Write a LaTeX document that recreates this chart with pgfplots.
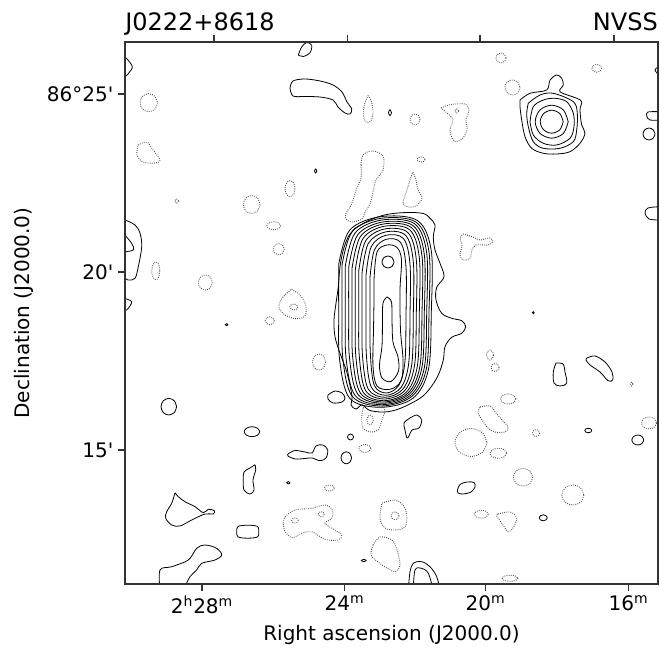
\documentclass[border=0pt]{standalone}
\usepackage{fontspec}
\setmainfont{DejaVu Sans}
\usepackage{pgfplots}
\pgfplotsset{compat=1.18}
\pgfplotsset{
  cpos/.style={black, line width=0.6pt, smooth, tension=0.55, mark=none},
  cneg/.style={black!70, line width=0.7pt, dash pattern=on 0.6pt off 1.0pt, smooth, tension=0.55, mark=none},
  mapframe/.style={
    scale only axis, width=399.75pt, height=406.5pt,
    xmin=125, xmax=658, ymin=-584, ymax=-42,
    axis line style={line width=0.9pt, black!80},
    tick style={line width=0.9pt, black!80},
    tick align=outside, major tick length=5.25pt,
    tick label style={font=\fontsize{15}{18}\selectfont},
  },
}
\begin{document}
\begin{tikzpicture}
\begin{axis}[
  mapframe,
  xtick pos=left, ytick pos=left,
  xtick={202,344.5,485.5,628.5},
  xticklabels={\mbox{2\textsuperscript{h}28\textsuperscript{m}},\mbox{24\textsuperscript{m}},\mbox{20\textsuperscript{m}},\mbox{16\textsuperscript{m}}},
  ytick={-450,-272,-94},
  yticklabels={\mbox{15\textquotesingle},\mbox{20\textquotesingle},\mbox{86°25\textquotesingle}},
]
% ---- main source: nested contours, outer to inner ----
\addplot[cpos] coordinates {(355.0,-228.3)(370.0,-220.0)(386.7,-214.5)(406.7,-212.5)(423.3,-213.5)(430.0,-218.3)(435.0,-225.0)(433.3,-236.7)(435.0,-250.0)(440.0,-263.3)(444.0,-276.7)(436.7,-287.3)(436.0,-300.0)(441.7,-313.3)(451.7,-318.3)(461.7,-320.7)(465.7,-326.7)(461.7,-333.3)(451.7,-337.3)(445.0,-346.7)(443.3,-360.0)(438.3,-375.0)(430.0,-388.3)(420.0,-398.3)(400.0,-408.5)(385.0,-412.0)(370.0,-410.5)(362.0,-405.0)(356.0,-409.0)(351.0,-405.0)(352.0,-396.0)(346.7,-371.7)(340.0,-353.3)(335.0,-336.7)(334.0,-320.0)(336.0,-303.3)(338.3,-286.7)(340.0,-266.7)(343.3,-250.0)(348.3,-236.7)(355.0,-228.3)};
\addplot[cpos] coordinates {(338.7,-264.4)(349.8,-230.0)(380.4,-216.7)(417.4,-220.5)(431.3,-251.0)(431.3,-312.0)(428.5,-369.2)(412.8,-398.4)(380.4,-407.3)(349.8,-398.4)(339.6,-359.7)(338.7,-312.0)(338.7,-264.4)};
\addplot[cpos] coordinates {(342.0,-265.2)(352.4,-231.4)(381.2,-218.3)(416.0,-222.1)(429.0,-252.1)(429.0,-312.2)(426.4,-368.5)(411.6,-396.6)(381.2,-406.0)(352.4,-396.6)(342.9,-359.1)(342.0,-312.2)(342.0,-265.2)};
\addplot[cpos] coordinates {(345.3,-266.2)(355.1,-232.9)(381.9,-220.0)(414.5,-223.7)(426.7,-253.2)(426.7,-312.4)(424.3,-367.8)(410.4,-395.5)(381.9,-404.7)(355.1,-395.5)(346.1,-358.5)(345.3,-312.4)(345.3,-266.2)};
\addplot[cpos] coordinates {(348.7,-267.3)(357.8,-234.7)(382.7,-222.0)(413.0,-225.6)(424.3,-254.6)(424.3,-312.7)(422.0,-367.0)(409.2,-394.2)(382.7,-403.3)(357.8,-394.2)(349.5,-358.0)(348.7,-312.7)(348.7,-267.3)};
\addplot[cpos] coordinates {(352.0,-268.5)(360.4,-236.5)(383.5,-224.0)(411.5,-227.6)(422.0,-256.0)(422.0,-313.0)(419.9,-366.4)(408.0,-393.1)(383.5,-402.0)(360.4,-393.1)(352.7,-357.5)(352.0,-313.0)(352.0,-268.5)};
\addplot[cpos] coordinates {(355.3,-269.9)(363.0,-238.5)(384.1,-226.3)(409.7,-229.8)(419.3,-257.7)(419.3,-313.5)(417.4,-365.8)(406.5,-392.0)(384.1,-400.7)(363.0,-392.0)(355.9,-357.1)(355.3,-313.5)(355.3,-269.9)};
\addplot[cpos] coordinates {(358.7,-271.5)(365.6,-240.9)(384.6,-229.0)(407.7,-232.4)(416.3,-259.6)(416.3,-314.0)(414.6,-365.0)(404.8,-390.5)(384.6,-399.0)(365.6,-390.5)(359.3,-356.5)(358.7,-314.0)(358.7,-271.5)};
\addplot[cpos] coordinates {(362.0,-273.3)(368.2,-243.6)(385.1,-232.0)(405.6,-235.3)(413.3,-261.8)(413.3,-314.7)(411.8,-364.2)(403.0,-389.0)(385.1,-397.3)(368.2,-389.0)(362.5,-356.0)(362.0,-314.7)(362.0,-273.3)};
\addplot[cpos] coordinates {(366.0,-275.3)(371.3,-246.5)(385.8,-235.3)(403.4,-238.5)(410.0,-264.1)(410.0,-315.3)(408.7,-363.3)(401.2,-387.3)(385.8,-395.3)(371.3,-387.3)(366.4,-355.3)(366.0,-315.3)(366.0,-275.3)};
\addplot[cpos] coordinates {(370.0,-277.7)(374.3,-250.1)(386.2,-239.3)(400.6,-242.4)(406.0,-267.0)(406.0,-316.2)(404.9,-362.3)(398.8,-385.3)(386.2,-393.0)(374.3,-385.3)(370.4,-354.6)(370.0,-316.2)(370.0,-277.7)};
\addplot[cpos] coordinates {(374,-280)(377,-252)(387,-245)(397,-247.5)(401.5,-260)(400,-290)(400.5,-330)(403,-360)(401,-381)(390,-389.3)(377,-386)(373,-366)(373.5,-330)(374,-300)(374,-280)};
\addplot[cpos] coordinates {(387,-297)(391.5,-302)(392,-320)(393,-342)(398,-357)(398.5,-371)(391,-381.5)(382,-378)(379.5,-365)(382,-346)(382.5,-320)(383,-303)(387,-297)};
\addplot[cpos] coordinates {(394,-262)(392.2,-266.2)(388,-268)(383.8,-266.2)(382,-262)(383.8,-257.8)(388,-256)(392.2,-257.8)(394,-262)};
% ---- compact source, top right ----
\addplot[cpos] coordinates {(520,-100)(530,-93.3)(546.7,-90)(550,-80)(556.7,-75)(561.7,-78.3)(563.3,-85)(560,-91.7)(576.7,-98.3)(581.7,-101.7)(580,-110)(581.7,-125)(585,-133.3)(580,-143.3)(570,-151.7)(556.7,-154)(543.3,-153.3)(531.7,-148.3)(525,-136.7)(521.7,-120)(520,-106.7)(520,-100)};
\addplot[cpos] coordinates {(528.3,-103.3)(540,-95)(553.3,-93.3)(573.3,-101.7)(577.3,-113.3)(576.7,-130)(573.3,-141.7)(560,-148.3)(543.3,-148.3)(533.3,-141.7)(528.3,-126.7)(526.7,-113.3)(528.3,-103.3)};
\addplot[cpos] coordinates {(530,-121.7)(533.3,-106.7)(543.3,-100)(555,-98.3)(566.7,-101.7)(573.3,-113.3)(574,-126.7)(570,-138.3)(556.7,-145)(543.3,-143.3)(533.3,-135)(530,-121.7)};
\addplot[cpos] coordinates {(568.2,-121.7)(563.4,-133.4)(551.7,-138.2)(540.0,-133.4)(535.2,-121.7)(540.0,-110.0)(551.7,-105.2)(563.4,-110.0)(568.2,-121.7)};
\addplot[cpos] coordinates {(563.2,-121.7)(559.8,-129.8)(551.7,-133.2)(543.6,-129.8)(540.2,-121.7)(543.6,-113.6)(551.7,-110.2)(559.8,-113.6)(563.2,-121.7)};
% ---- positive noise contours ----
\addplot[cpos] coordinates {(123,-55)(132.3,-67)(123,-79)};
\addplot[cpos] coordinates {(123,-219)(135,-225)(140,-233)(141.7,-246.7)(138.3,-266.7)(135,-278.3)(128,-280)(123,-276)};
\addplot[cpos] coordinates {(123,-233)(131.7,-243.3)(133.3,-250)(123,-252)};
\addplot[cpos] coordinates {(123,-298)(131.7,-301.7)(126.7,-310)(123,-310)};
\addplot[cpos] coordinates {(660,-111.7)(648,-112)(646.7,-116)(650,-120)(660,-120)};
\addplot[cpos] coordinates {(660,-206.7)(648,-208)(645,-213)(649,-219)(660,-220)};
\addplot[cpos] coordinates {(660,-66)(655,-70)(660,-76)};
\addplot[cpos] coordinates {(298.3,-55)(301.7,-47)(306.7,-42.5)(311.7,-45.3)(310,-52.7)(303.3,-56.5)(298.3,-55)};
\addplot[cpos] coordinates {(290,-88)(293,-81)(305,-79)(320,-81)(333,-85)(342,-92)(347,-102)(351.7,-109)(350,-114)(345,-113)(338,-107)(333,-100)(320,-97)(305,-96.5)(293,-96)(290,-88)};
\addplot[cpos] coordinates {(391.5,-112.7)(390,-115.7)(388.5,-112.7)(390,-109.7)(391.5,-112.7)};
\addplot[cpos] coordinates {(316.9,-171)(315.7,-173)(314.5,-171)(315.7,-169)(316.9,-171)};
\addplot[cpos] coordinates {(228.2,-324.7)(226.7,-325.7)(225.2,-324.7)(226.7,-323.7)(228.2,-324.7)};
\addplot[cpos] coordinates {(534.3,-312.7)(533.3,-313.7)(532.3,-312.7)(533.3,-311.7)(534.3,-312.7)};
\addplot[cpos] coordinates {(655,-134)(653.2,-138.2)(649,-140)(644.8,-138.2)(643,-134)(644.8,-129.8)(649,-128)(653.2,-129.8)(655,-134)};
\addplot[cpos] coordinates {(176.6,-406.7)(174.3,-412.6)(168.8,-415)(163.3,-412.6)(161,-406.7)(163.3,-400.8)(168.8,-398.4)(174.3,-400.8)(176.6,-406.7)};
\addplot[cpos] coordinates {(259.8,-431.7)(257.5,-435.2)(252,-436.7)(246.5,-435.2)(244.2,-431.7)(246.5,-428.2)(252,-426.7)(257.5,-428.2)(259.8,-431.7)};
\addplot[cpos] coordinates {(258.8,-531.7)(257.5,-536.9)(247.8,-538.2)(238,-536.9)(236.8,-531.7)(238,-526.5)(247.8,-525.2)(257.5,-526.5)(258.8,-531.7)};
\addplot[cpos] coordinates {(353.5,-437)(352.6,-439.1)(350.5,-440)(348.4,-439.1)(347.5,-437)(348.4,-434.9)(350.5,-434)(352.6,-434.9)(353.5,-437)};
\addplot[cpos] coordinates {(351.6,-457.8)(350,-462)(346.3,-463.8)(342.6,-462)(341,-457.8)(342.6,-453.6)(346.3,-451.8)(350,-453.6)(351.6,-457.8)};
\addplot[cpos] coordinates {(290,-482.8)(288.3,-484)(286.6,-482.8)(288.3,-481.6)(290,-482.8)};
\addplot[cpos] coordinates {(366.5,-560.5)(364,-561.7)(361.5,-560.5)(364,-559.3)(366.5,-560.5)};
\addplot[cpos] coordinates {(591.8,-430.5)(590.8,-432.1)(588.3,-432.7)(585.8,-432.1)(584.8,-430.5)(585.8,-428.9)(588.3,-428.3)(590.8,-428.9)(591.8,-430.5)};
\addplot[cpos] coordinates {(643.8,-440)(642,-443.5)(637.8,-445)(633.6,-443.5)(631.8,-440)(633.6,-436.5)(637.8,-435)(642,-436.5)(643.8,-440)};
\addplot[cpos] coordinates {(547.2,-517.8)(546,-519.9)(543.2,-520.8)(540.4,-519.9)(539.2,-517.8)(540.4,-515.7)(543.2,-514.8)(546,-515.7)(547.2,-517.8)};
\addplot[cpos] coordinates {(457.5,-490)(460,-484.5)(467,-482)(474,-482.5)(475,-487)(471,-492)(463,-494)(458,-493)(457.5,-490)};
\addplot[cpos] coordinates {(328,-395)(335,-391)(342,-393)(345,-398)(342,-402)(333,-403)(328,-399)(328,-395)};
\addplot[cpos] coordinates {(410,-418)(417,-415)(421.7,-420)(419,-428)(412,-430)(409,-436)(407,-438)(405,-430)(404,-423)(410,-418)};
\addplot[cpos] coordinates {(556,-363)(563,-364)(565,-372)(566.7,-383)(560,-386)(554,-383)(553.3,-372)(556,-363)};
\addplot[cpos] coordinates {(587,-358)(595,-356)(605,-362)(612,-372)(612.7,-380)(608,-380.7)(600,-372)(590,-365)(586,-360)(587,-358)};
\addplot[cpos] coordinates {(255,-464.7)(255.7,-470)(253,-480)(254,-490)(250,-494)(244,-490)(243.3,-480)(244,-472)(250,-468)(255,-464.7)};
\addplot[cpos] coordinates {(288,-454)(295,-450.5)(305,-452)(312,-453)(316,-446)(323,-445)(327.7,-450)(326,-458)(320,-460.7)(312,-458)(305,-458.5)(295,-459)(288,-456)(288,-454)};
\addplot[cpos] coordinates {(175,-492.7)(178.3,-496.7)(185,-501.7)(195,-506.7)(203.3,-512.7)(208.3,-509.3)(214.3,-510.7)(213.3,-514)(205,-514)(191.7,-520)(180,-526)(171.7,-525)(165.7,-518.3)(166.7,-511.7)(171.7,-503.3)(175,-492.7)};
\addplot[cpos] coordinates {(160,-590)(160,-570)(171.7,-566.7)(188.3,-560)(196.7,-548.3)(205,-545)(216.7,-548.3)(221.7,-555)(215,-560)(201.7,-563.3)(196.7,-570)(190,-576.7)(183.3,-590)};
\addplot[cpos] coordinates {(408.3,-590)(410,-572)(413.3,-563.3)(421.7,-561.7)(430,-566.7)(436.7,-576.7)(440,-590)};
\addplot[cpos] coordinates {(413.3,-590)(415,-570)(421.7,-568.3)(428.3,-573.3)(433.3,-590)};
% ---- negative noise contours (dotted) ----
\addplot[cneg] coordinates {(157.4,-102.7)(154.9,-109.1)(148.7,-111.7)(142.5,-109.1)(140.0,-102.7)(142.5,-96.3)(148.7,-93.7)(154.9,-96.3)(157.4,-102.7)};
\addplot[cneg] coordinates {(138,-145)(147,-142)(153,-150)(160,-160)(155,-163)(143,-162)(137,-155)(138,-145)};
\addplot[cneg] coordinates {(178.7,-201)(176.7,-203)(174.7,-201)(176.7,-199)(178.7,-201)};
\addplot[cneg] coordinates {(260.0,-204.5)(257.6,-210.9)(251.7,-213.5)(245.8,-210.9)(243.4,-204.5)(245.8,-198.1)(251.7,-195.5)(257.6,-198.1)(260.0,-204.5)};
\addplot[cneg] coordinates {(295,-188.7)(293.5,-194.4)(290,-196.7)(286.5,-194.4)(285,-188.7)(286.5,-183.0)(290,-180.7)(293.5,-183.0)(295,-188.7)};
\addplot[cneg] coordinates {(420,-119.5)(418.5,-123.4)(415,-125)(411.5,-123.4)(410,-119.5)(411.5,-115.6)(415,-114)(418.5,-115.6)(420,-119.5)};
\addplot[cneg] coordinates {(520,-87.5)(517.8,-92.8)(512.5,-95)(507.2,-92.8)(505,-87.5)(507.2,-82.2)(512.5,-80)(517.8,-82.2)(520,-87.5)};
\addplot[cneg] coordinates {(601.7,-68.3)(600.2,-71.1)(596.7,-72.3)(593.2,-71.1)(591.7,-68.3)(593.2,-65.5)(596.7,-64.3)(600.2,-65.5)(601.7,-68.3)};
\addplot[cneg] coordinates {(506,-58)(504.5,-61.5)(501,-63)(497.5,-61.5)(496,-58)(497.5,-54.5)(501,-53)(504.5,-54.5)(506,-58)};
\addplot[cneg] coordinates {(368,-95.5)(371.5,-102)(373,-112)(371,-121)(366,-122)(363.5,-115)(364.5,-104)(368,-95.5)};
\addplot[cneg] coordinates {(441,-108)(450,-104.7)(465,-104)(469,-110)(466,-120)(467,-130)(462,-139)(454,-141)(450,-130)(453,-120)(447,-113)(441,-108)};
\addplot[cneg] coordinates {(458.7,-111)(456.7,-113)(454.7,-111)(456.7,-109)(458.7,-111)};
\addplot[cneg] coordinates {(425,-159.5)(423.8,-161.3)(421,-162)(418.2,-161.3)(417,-159.5)(418.2,-157.7)(421,-157)(423.8,-157.7)(425,-159.5)};
\addplot[cneg] coordinates {(361,-165)(363,-155)(372,-151)(383,-156)(383,-170)(376,-180)(373,-192)(370,-204)(365,-212)(362,-219)(352,-222)(346,-219)(346,-213)(350,-207)(353,-200)(356,-190)(361,-178)(361,-165)};
\addplot[cneg] coordinates {(413,-172)(416,-180)(418,-190)(422,-198)(416,-206)(408,-207)(403,-203)(407,-190)(410,-180)(413,-172)};
\addplot[cneg] coordinates {(463,-234)(473,-237)(480,-240)(490,-238)(493,-242)(488,-245)(476,-245)(472,-250)(470,-258)(463,-260)(460,-255)(462,-245)(460,-238)(463,-234)};
\addplot[cneg] coordinates {(159.8,-270.8)(158.6,-277.2)(155.8,-279.8)(153,-277.2)(151.8,-270.8)(153,-264.4)(155.8,-261.8)(158.6,-264.4)(159.8,-270.8)};
\addplot[cneg] coordinates {(212.3,-282.5)(210.2,-287.8)(205.3,-290)(200.4,-287.8)(198.3,-282.5)(200.4,-277.2)(205.3,-275)(210.2,-277.2)(212.3,-282.5)};
\addplot[cneg] coordinates {(280.8,-225.8)(278.7,-228.6)(273.8,-229.8)(268.9,-228.6)(266.8,-225.8)(268.9,-223)(273.8,-221.8)(278.7,-223)(280.8,-225.8)};
\addplot[cneg] coordinates {(284.2,-249.2)(282.6,-253.1)(278.7,-254.7)(274.8,-253.1)(273.2,-249.2)(274.8,-245.3)(278.7,-243.7)(282.6,-245.3)(284.2,-249.2)};
\addplot[cneg] coordinates {(291.7,-289.3)(300,-295)(305.7,-305)(305,-316)(296,-318.7)(285,-315)(279,-307)(283,-297)(291.7,-289.3)};
\addplot[cneg] coordinates {(297.8,-307)(296.6,-309.1)(293.8,-310)(291,-309.1)(289.8,-307)(291,-304.9)(293.8,-304)(296.6,-304.9)(297.8,-307)};
\addplot[cneg] coordinates {(274.2,-320.8)(272.9,-323.6)(269.7,-324.8)(266.5,-323.6)(265.2,-320.8)(266.5,-318)(269.7,-316.8)(272.9,-318)(274.2,-320.8)};
\addplot[cneg] coordinates {(325.5,-362)(323.6,-367.7)(319,-370)(314.4,-367.7)(312.5,-362)(314.4,-356.3)(319,-354)(323.6,-356.3)(325.5,-362)};
\addplot[cneg] coordinates {(493.5,-355)(492.5,-358.5)(490,-360)(487.5,-358.5)(486.5,-355)(487.5,-351.5)(490,-350)(492.5,-351.5)(493.5,-355)};
\addplot[cneg] coordinates {(499,-367.5)(497.8,-370.3)(495,-371.5)(492.2,-370.3)(491,-367.5)(492.2,-364.7)(495,-363.5)(497.8,-364.7)(499,-367.5)};
\addplot[cneg] coordinates {(633,-384)(631.7,-386)(630.4,-384)(631.7,-382)(633,-384)};
\addplot[cneg] coordinates {(515.9,-399)(513.7,-402.5)(508.3,-404)(502.9,-402.5)(500.7,-399)(502.9,-395.5)(508.3,-394)(513.7,-395.5)(515.9,-399)};
\addplot[cneg] coordinates {(480,-407)(490,-406)(496,-413)(502,-420)(508,-427)(505,-432)(495,-432)(488,-428)(482,-420)(478,-412)(480,-407)};
\addplot[cneg] coordinates {(539.5,-433)(538.5,-435.5)(536,-436.5)(533.5,-435.5)(532.5,-433)(533.5,-430.5)(536,-429.5)(538.5,-430.5)(539.5,-433)};
\addplot[cneg] coordinates {(656.5,-423)(654.3,-427.2)(649,-429)(643.7,-427.2)(641.5,-423)(643.7,-418.8)(649,-417)(654.3,-418.8)(656.5,-423)};
\addplot[cneg] coordinates {(487,-442.5)(482.3,-452.4)(471,-456.5)(459.7,-452.4)(455,-442.5)(459.7,-432.6)(471,-428.5)(482.3,-432.6)(487,-442.5)};
\addplot[cneg] coordinates {(506.6,-453.3)(504.2,-456.8)(498.3,-458.3)(492.4,-456.8)(490,-453.3)(492.4,-449.8)(498.3,-448.3)(504.2,-449.8)(506.6,-453.3)};
\addplot[cneg] coordinates {(532.7,-477.2)(529.9,-483.4)(523,-486)(516.1,-483.4)(513.3,-477.2)(516.1,-471)(523,-468.4)(529.9,-471)(532.7,-477.2)};
\addplot[cneg] coordinates {(583.8,-495)(580.6,-502.1)(572.8,-505)(565,-502.1)(561.8,-495)(565,-487.9)(572.8,-485)(580.6,-487.9)(583.8,-495)};
\addplot[cneg] coordinates {(488.3,-514.2)(486.2,-517)(481.3,-518.2)(476.4,-517)(474.3,-514.2)(476.4,-511.4)(481.3,-510.2)(486.2,-511.4)(488.3,-514.2)};
\addplot[cneg] coordinates {(498,-514)(510,-512)(516.7,-518)(513,-528)(508,-531.7)(503,-525)(496.7,-516)(498,-514)};
\addplot[cneg] coordinates {(518,-578.3)(515.7,-580.4)(510,-581.3)(504.3,-580.4)(502,-578.3)(504.3,-576.2)(510,-575.3)(515.7,-576.2)(518,-578.3)};
\addplot[cneg] coordinates {(382,-503)(395,-500)(403,-505)(406.7,-515)(405,-527)(395,-530)(385,-528)(380,-518)(382,-503)};
\addplot[cneg] coordinates {(399,-515.8)(397.8,-518.6)(395,-519.8)(392.2,-518.6)(391,-515.8)(392.2,-513)(395,-511.8)(397.8,-513)(399,-515.8)};
\addplot[cneg] coordinates {(373,-545)(380,-537)(392,-540)(397,-550)(400,-565)(395,-571.7)(387,-568)(378,-562)(371,-555)(373,-545)};
\addplot[cneg] coordinates {(363,-408)(370,-403.5)(380,-404)(385,-410)(382,-420)(378,-430)(370,-432)(363,-428)(361.7,-418)(363,-408)};
\addplot[cneg] coordinates {(373.3,-420)(372.3,-423.5)(370,-425)(367.7,-423.5)(366.7,-420)(367.7,-416.5)(370,-415)(372.3,-416.5)(373.3,-420)};
\addplot[cneg] coordinates {(371,-448.5)(369.2,-451.3)(365,-452.5)(360.8,-451.3)(359,-448.5)(360.8,-445.7)(365,-444.5)(369.2,-445.7)(371,-448.5)};
\addplot[cneg] coordinates {(334.3,-488)(332.8,-490.1)(329.3,-491)(325.8,-490.1)(324.3,-488)(325.8,-485.9)(329.3,-485)(332.8,-485.9)(334.3,-488)};
\addplot[cneg] coordinates {(285,-516.7)(295,-510)(311.7,-508.3)(325,-505)(332.3,-510)(331.7,-518.3)(325,-523.3)(335,-530)(341.7,-535)(338.3,-540)(325,-539.3)(311.7,-531.7)(301.7,-533.3)(291.7,-537.7)(284.3,-530)(283.3,-521.7)(285,-516.7)};
\addplot[cneg] coordinates {(298.3,-520.5)(297.3,-522.3)(295,-523)(292.7,-522.3)(291.7,-520.5)(292.7,-518.7)(295,-518)(297.3,-518.7)(298.3,-520.5)};
\addplot[cneg] coordinates {(324.3,-514.2)(323.4,-516)(321.3,-516.7)(319.2,-516)(318.3,-514.2)(319.2,-512.4)(321.3,-511.7)(323.4,-512.4)(324.3,-514.2)};
\end{axis}
% ---- top ticks, titles, labels ----
\begin{axis}[
  mapframe, clip=false,
  xtick pos=right, xtick={214,347.5,480,614}, xticklabels={},
  ytick=\empty,
]
\path (axis cs:0,0) rectangle (axis cs:660,-649);
\node[font=\fontsize{18}{21}\selectfont, anchor=base west, inner sep=0pt] at (axis cs:125,-31) {J0222+8618};
\node[font=\fontsize{18}{21}\selectfont, anchor=base east, inner sep=0pt] at (axis cs:658,-31) {NVSS};
\node[font=\fontsize{15}{18}\selectfont, anchor=base, inner sep=0pt] at (axis cs:391.5,-640) {Right ascension (J2000.0)};
\node[font=\fontsize{15}{18}\selectfont, anchor=base, inner sep=0pt, rotate=90] at (axis cs:30,-313) {Declination (J2000.0)};
\end{axis}
\end{tikzpicture}
\end{document}
